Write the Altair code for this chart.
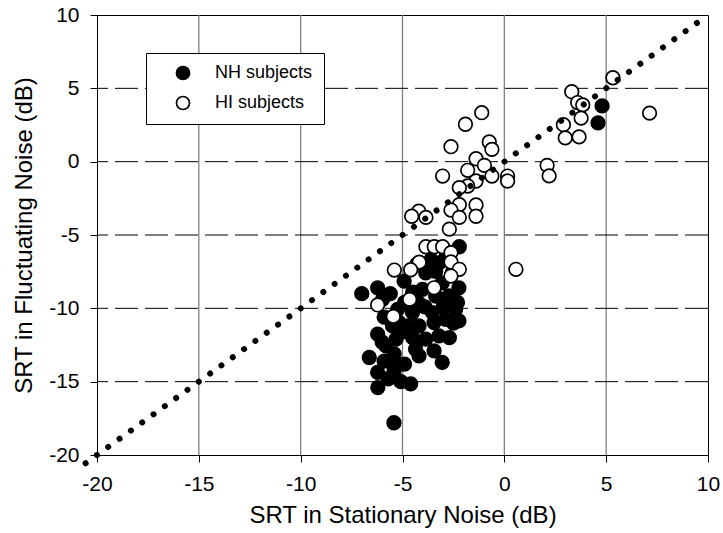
import altair as alt
import pandas as pd

# SRT (dB) in stationary noise (x) and fluctuating noise (y)
nh_x = [4.80, 4.60, -2.21, -2.88, -3.86, -3.37, -4.92, -6.22, -7.00, -2.56,
        -3.05, -2.23, -4.02, -3.37, -2.72, -5.98, -4.19, -2.39, -5.24, -4.51,
        -3.53, -2.88, -2.23, -5.16, -3.45, -4.19, -5.49, -4.70, -6.22, -3.21,
        -3.86, -5.32, -6.00, -5.81, -4.36, -3.45, -5.41, -4.19, -6.63, -3.05,
        -5.33, -5.41, -6.22, -5.08, -4.60, -6.21, -5.42, -2.50, -3.60, -4.50,
        -2.30, -5.90, -4.90, -3.90, -3.00, -5.00, -4.50, -5.90, -4.90, -5.70,
        -2.70, -3.20, -4.30, -5.60]
nh_y = [3.80, 2.64, -5.80, -6.56, -7.58, -7.47, -8.14, -8.60, -9.00, -7.58,
        -8.26, -8.60, -8.71, -9.16, -9.16, -9.39, -9.66, -10.07, -10.07, -10.29,
        -10.29, -10.75, -10.86, -10.97, -10.97, -11.20, -11.20, -11.20, -11.76, -11.88,
        -12.10, -12.10, -12.30, -12.56, -12.78, -12.90, -13.10, -13.24, -13.35, -13.69,
        -13.70, -14.25, -14.37, -15.00, -15.15, -15.40, -17.80, -11.00, -6.70, -8.90,
        -9.60, -10.60, -9.60, -9.90, -9.90, -11.60, -12.00, -13.60, -13.80, -14.80,
        -12.00, -6.90, -7.00, -9.00]

hi_x = [5.33, 3.31, 3.60, 3.85, 3.77, 2.90, 2.99, 3.67, 7.13, 2.10,
        2.20, -1.11, -1.91, -2.62, -0.74, -0.61, -1.39, -0.98, -1.80, -3.03,
        -0.61, 0.16, 0.16, -1.39, -1.80, -2.21, -2.21, -1.39, -2.62, -4.20,
        -4.55, -3.85, -1.39, -2.21, -2.70, -3.85, -3.44, -3.03, -2.62, -2.62,
        -4.18, -2.21, -5.40, -4.60, 0.57, -2.62, -3.45, -4.65, -6.22, -5.45]
hi_y = [5.72, 4.77, 4.03, 3.87, 2.97, 2.52, 1.62, 1.69, 3.31, -0.25,
        -0.97, 3.34, 2.55, 1.02, 1.34, 0.84, 0.20, -0.25, -0.59, -0.98,
        -0.98, -0.98, -1.32, -1.32, -1.66, -1.77, -2.93, -2.95, -3.30, -3.37,
        -3.72, -3.80, -3.72, -3.80, -4.60, -5.80, -5.80, -5.80, -6.20, -6.84,
        -6.85, -7.34, -7.39, -7.37, -7.34, -7.80, -8.60, -9.39, -9.77, -10.55]

groups = ["NH subjects", "HI subjects"]
ticks = [-20, -15, -10, -5, 0, 5, 10]
grid_lines = [-15, -10, -5, 0, 5]
diag = [-20.56, 9.47]          # ends of the dotted identity line y = x

points = pd.concat([
    pd.DataFrame({"x": nh_x, "y": nh_y, "group": groups[0]}),
    pd.DataFrame({"x": hi_x, "y": hi_y, "group": groups[1]}),
], ignore_index=True)
grid = pd.DataFrame({"v": grid_lines})
identity = pd.DataFrame({"x": diag, "y": diag})

FONT = "Liberation Sans"
minus_label = "datum.value < 0 ? '-' + abs(datum.value) : '' + datum.value"

xs = alt.Scale(domain=[-20, 10], nice=False, zero=False)
ys = alt.Scale(domain=[-20, 10], nice=False, zero=False)

x_axis = alt.Axis(values=ticks, grid=False, tickSize=7, tickColor="black",
                  domainColor="black", labelFontSize=21, labelColor="black",
                  labelPadding=11, labelExpr=minus_label, labelFlush=False,
                  title="SRT in Stationary Noise (dB)", titleFontSize=24,
                  titleFontWeight="normal", titleColor="black", titlePadding=9)
y_axis = alt.Axis(values=ticks, grid=False, tickSize=7, tickColor="black",
                  domainColor="black", labelFontSize=21, labelColor="black",
                  labelPadding=11, labelExpr=minus_label, labelFlush=False,
                  title="SRT in Fluctuating Noise (dB)", titleFontSize=24,
                  titleFontWeight="normal", titleColor="black", titlePadding=12)

vgrid = alt.Chart(grid).mark_rule(color="#808080", strokeWidth=1.3).encode(
    x=alt.X("v:Q", scale=xs, axis=x_axis))
hgrid = alt.Chart(grid).mark_rule(color="black", strokeWidth=1,
                                  strokeDash=[23, 7]).encode(
    y=alt.Y("v:Q", scale=ys, axis=y_axis))

scatter = alt.Chart(points).mark_point(
    shape="circle", size=185, stroke="black", strokeWidth=1.7, opacity=1,
    filled=True).encode(
    x=alt.X("x:Q", scale=xs, axis=x_axis),
    y=alt.Y("y:Q", scale=ys, axis=y_axis),
    fill=alt.Fill("group:N",
                  scale=alt.Scale(domain=groups, range=["black", "white"]),
                  legend=alt.Legend(title=None, orient="none", legendX=49,
                                    legendY=38, direction="vertical",
                                    strokeColor="black", fillColor="white",
                                    padding=11, symbolType="circle",
                                    symbolSize=170, symbolStrokeColor="black",
                                    symbolStrokeWidth=1.7, symbolOffset=17,
                                    labelFontSize=18, labelFont=FONT,
                                    labelColor="black", labelOffset=23,
                                    rowPadding=10, cornerRadius=0)),
)

dotted = alt.Chart(identity).mark_line(
    color="black", strokeWidth=6, strokeCap="round",
    strokeDash=[0.001, 13.95]).encode(
    x=alt.X("x:Q", scale=xs), y=alt.Y("y:Q", scale=ys))

chart = alt.layer(vgrid, hgrid, scatter, dotted).properties(
    width=611, height=440,
    autosize=alt.AutoSizeParams(type="none"),
    padding={"left": 97, "top": 15, "right": 15, "bottom": 78},
).configure(font=FONT).configure_view(stroke="black", strokeWidth=1)

chart.save("out.html", embed_options={"renderer": "svg", "actions": False})
